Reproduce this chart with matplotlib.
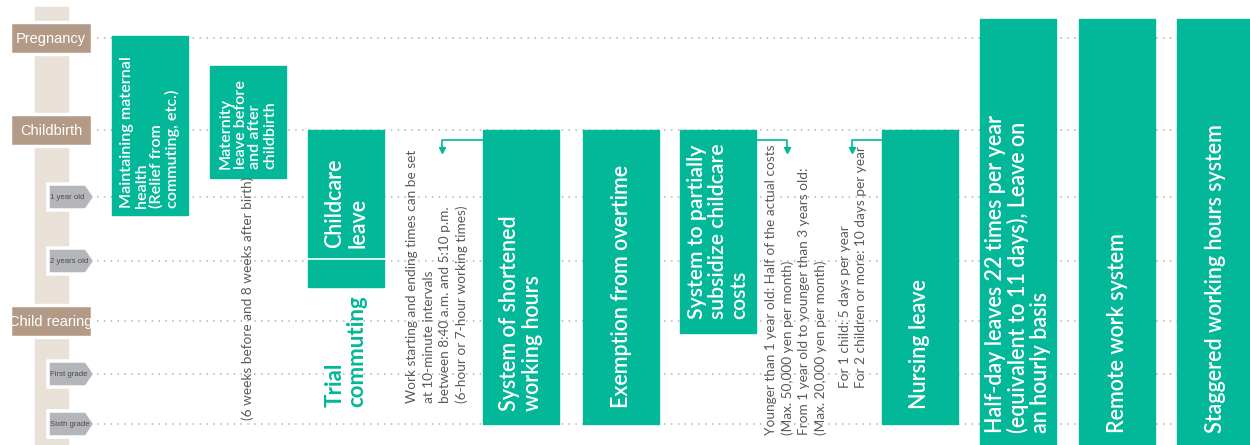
import matplotlib.pyplot as plt
from matplotlib.patches import Rectangle, Polygon

# life stages on the timeline (top to bottom)
stages = ["Pregnancy", "Childbirth", "1 year old", "2 years old",
          "Child rearing", "First grade", "Sixth grade"]
major_stages = ["Pregnancy", "Childbirth", "Child rearing"]

# support measures shown as green columns
measures = ["Maintaining maternal\nhealth\n(Relief from\ncommuting, etc.)",
            "Maternity\nleave before\nand after\nchildbirth",
            "Childcare\nleave",
            "System of shortened\nworking hours",
            "Exemption from overtime",
            "System to partially\nsubsidize childcare\ncosts",
            "Nursing leave",
            "Half-day leaves 22 times per year\n(equivalent to 11 days), Leave on\nan hourly basis",
            "Remote work system",
            "Staggered working hours system"]

notes = ["(6 weeks before and 8 weeks after birth)",
         "Work starting and ending times can be set\nat 10-minute intervals\n"
         "between 8:40 a.m. and 5:10 p.m.\n(6-hour or 7-hour working times)",
         "Younger than 1 year old: Half of the actual costs\n(Max. 50,000 yen per month)\n"
         "From 1 year old to younger than 3 years old:\n(Max. 20,000 yen per month)",
         "For 1 child: 5 days per year\nFor 2 children or more: 10 days per year"]

trial_label = "Trial\ncommuting"

# ---- layout (pixel space of a 1250x445 canvas) ----
stage_y = [38, 130, 197, 261, 321, 374, 424]
box_x = [112, 210, 308, 483, 583, 680, 882, 980, 1079, 1177]
box_top = [36, 66, 130, 130, 130, 130, 130, 19, 19, 19]
box_bot = [215, 178, 257, 424, 424, 333, 424, 448, 448, 448]
text_bot = [208, 169, 248, 411, 408, 319, 409, 433, 433, 433]
box_fs = [11.6, 11.6, 15.5, 15.5, 15.5, 15.3, 15.5, 15.5, 15.5, 15.5]
box_ls = [1.08, 1.08, 1.12, 1.12, 1.12, 1.08, 1.12, 1.08, 1.12, 1.12]
note_xy = [(248, 420), (437, 403), (796, 435), (853, 388)]
box_w = 76

GREEN = '#03b799'
BROWN = '#b39a87'
BEIGE = '#e9e0d8'
TAG = '#b5b6b9'
NOTE = '#5a5a5a'

fig = plt.figure(figsize=(12.5, 4.45), dpi=100)
ax = fig.add_axes([0, 0, 1, 1])
ax.set_xlim(0, 1250)
ax.set_ylim(445, 0)
ax.axis('off')

# vertical beige spine
ax.add_patch(Rectangle((35, 7), 33, 445, color=BEIGE, zorder=1))

# dotted guide lines
ax.hlines(stage_y, 97, 1250, colors='#b8b8b8', linestyles=(0, (0.9, 3.2)), lw=1.2, zorder=0)

# stage labels
for name, y in zip(stages, stage_y):
    if name in major_stages:
        ax.add_patch(Rectangle((10, y - 16), 82, 32, facecolor=BROWN, edgecolor='white',
                               lw=2.5, zorder=2))
        ax.text(51, y + 1, name, color='white', fontsize=10.5, ha='center', va='center',
                family='Liberation Sans', zorder=3)
    else:
        pts = [(48, y - 13), (86, y - 13), (95, y), (86, y + 13), (48, y + 13)]
        ax.add_patch(Polygon(pts, closed=True, facecolor=TAG, edgecolor='white',
                             lw=2.5, zorder=2))
        ax.text(50, y + 0.5, name, color='#4a4a4a', fontsize=5.6, ha='left', va='center',
                family='Liberation Sans', zorder=3)

# green measure columns
for i, label in enumerate(measures):
    ax.add_patch(Rectangle((box_x[i], box_top[i]), box_w, box_bot[i] - box_top[i],
                           color=GREEN, zorder=2))
    ax.text(box_x[i] + box_w / 2, text_bot[i], label, rotation=90, color='white',
            fontsize=box_fs[i], fontweight='semibold', family='Lato', ha='center',
            va='bottom', multialignment='left', linespacing=box_ls[i], zorder=3)

# trial commuting segment under childcare leave
ax.add_patch(Rectangle((308, 260), box_w, 27, color=GREEN, zorder=2))
ax.text(346, 407, trial_label, rotation=90, color=GREEN, fontsize=16, fontweight='bold',
        family='Lato', ha='center', va='bottom', multialignment='left',
        linespacing=1.08, zorder=3)

# gray explanatory notes
for (x, y), txt in zip(note_xy, notes):
    ax.text(x, y, txt, rotation=90, color=NOTE, fontsize=9.8, family='Lato',
            ha='center', va='bottom', multialignment='left',
            linespacing=1.42, zorder=3)

# connector arrows from boxes to notes
for x0, x1 in [(483, 442), (756, 787), (882, 852)]:
    ax.plot([x0, x1, x1], [140, 140, 149], color=GREEN, lw=1.2, zorder=3)
    ax.plot(x1, 150, marker='v', color=GREEN, markersize=5, zorder=3)

fig.savefig('out.png', dpi=100)
